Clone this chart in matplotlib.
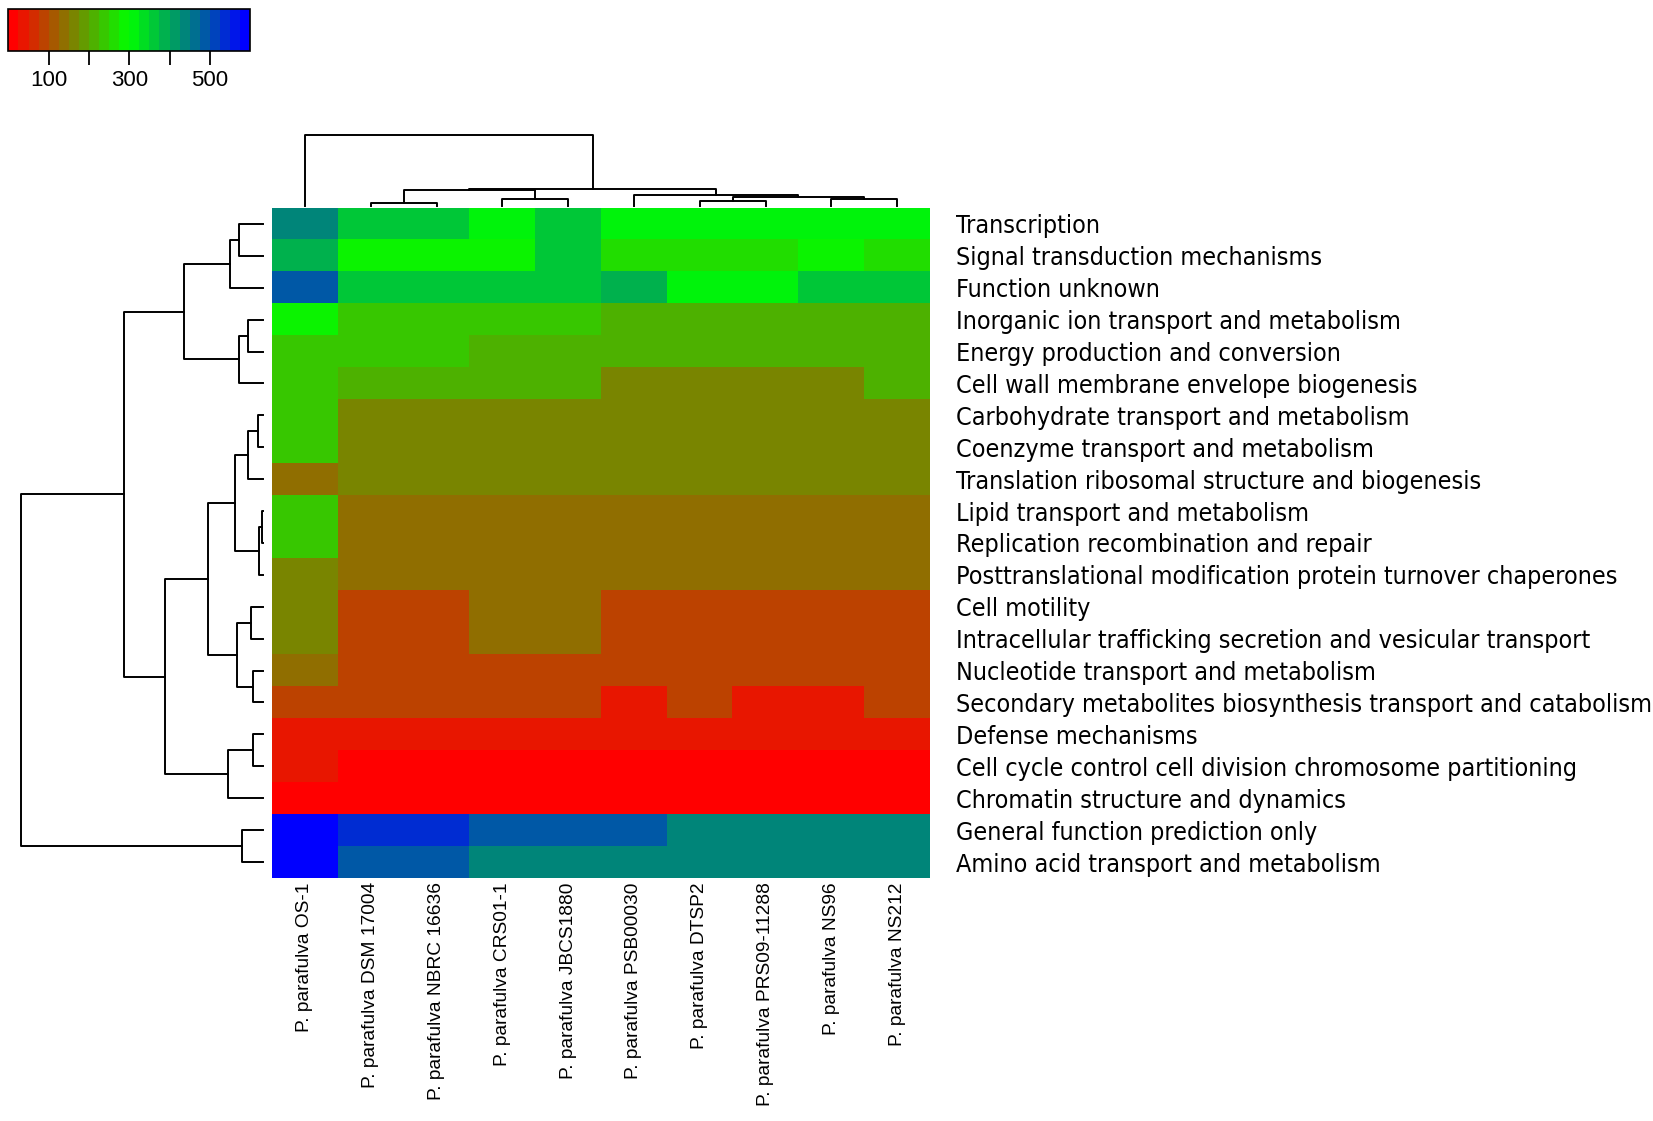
import numpy as np
import matplotlib
matplotlib.use('Agg')
import matplotlib.pyplot as plt
from matplotlib.colors import LinearSegmentedColormap, Normalize
from matplotlib.cm import ScalarMappable

# COG categories (rows, top to bottom as drawn)
categories = [
    "Transcription",
    "Signal transduction mechanisms",
    "Function unknown",
    "Inorganic ion transport and metabolism",
    "Energy production and conversion",
    "Cell wall membrane envelope biogenesis",
    "Carbohydrate transport and metabolism",
    "Coenzyme transport and metabolism",
    "Translation ribosomal structure and biogenesis",
    "Lipid transport and metabolism",
    "Replication recombination and repair",
    "Posttranslational modification protein turnover chaperones",
    "Cell motility",
    "Intracellular trafficking secretion and vesicular transport",
    "Nucleotide transport and metabolism",
    "Secondary metabolites biosynthesis transport and catabolism",
    "Defense mechanisms",
    "Cell cycle control cell division chromosome partitioning",
    "Chromatin structure and dynamics",
    "General function prediction only",
    "Amino acid transport and metabolism",
]

# strains (columns, left to right)
strains = [
    "P. parafulva OS-1",
    "P. parafulva DSM 17004",
    "P. parafulva NBRC 16636",
    "P. parafulva CRS01-1",
    "P. parafulva JBCS1880",
    "P. parafulva PSB00030",
    "P. parafulva DTSP2",
    "P. parafulva PRS09-11288",
    "P. parafulva NS96",
    "P. parafulva NS212",
]

# gene counts per category, one list per strain
os1      = [435, 390, 478, 298, 230, 245, 245, 243, 140, 228, 229, 165, 166, 164, 128, 78, 40, 40, 2, 598, 590]
dsm17004 = [350, 295, 355, 228, 230, 210, 165, 164, 162, 128, 129, 130, 82, 81, 78, 78, 41, 5, 2, 525, 475]
nbrc1663 = [350, 295, 355, 228, 230, 210, 165, 164, 162, 128, 129, 130, 82, 81, 78, 78, 41, 5, 2, 525, 475]
crs011   = [305, 295, 355, 228, 210, 210, 165, 164, 162, 128, 129, 130, 128, 127, 75, 78, 40, 5, 2, 475, 430]
jbcs1880 = [350, 350, 355, 228, 210, 210, 165, 164, 162, 128, 129, 130, 128, 127, 75, 78, 40, 5, 2, 475, 430]
psb00030 = [302, 255, 390, 212, 210, 168, 165, 164, 162, 128, 129, 130, 82, 81, 78, 40, 40, 4, 2, 475, 430]
dtsp2    = [302, 255, 300, 212, 210, 168, 165, 164, 162, 128, 129, 130, 82, 81, 78, 78, 40, 4, 2, 430, 430]
prs09    = [302, 255, 300, 212, 210, 168, 165, 164, 162, 128, 129, 130, 82, 81, 78, 40, 40, 4, 2, 430, 430]
ns96     = [302, 295, 355, 212, 210, 168, 165, 164, 162, 128, 129, 130, 82, 81, 78, 40, 40, 4, 2, 430, 430]
ns212    = [302, 255, 355, 212, 210, 210, 165, 164, 162, 128, 129, 130, 82, 81, 78, 78, 40, 4, 2, 430, 430]

# dendrogram merges (child a, child b, height); ids >= n are earlier merges
row_merges = [
    (0, 1, 72), (21, 2, 100), (3, 4, 45), (23, 5, 73), (22, 24, 238),
    (6, 7, 15), (26, 8, 47), (9, 10, 5), (28, 11, 14), (27, 29, 85),
    (12, 13, 38), (14, 15, 30), (31, 32, 80), (30, 33, 167),
    (16, 17, 30), (35, 18, 105), (34, 36, 295), (25, 37, 418),
    (19, 20, 65), (38, 39, 727),
]
col_merges = [
    (1, 2, 8), (3, 4, 22), (10, 11, 47), (6, 7, 15), (8, 9, 22),
    (13, 14, 26), (5, 15, 32), (12, 16, 52), (0, 17, 212),
]

data = np.array([os1, dsm17004, nbrc1663, crs011, jbcs1880,
                 psb00030, dtsp2, prs09, ns96, ns212]).T

cmap = LinearSegmentedColormap.from_list('rgb', ['#FF0000', '#00FF00', '#0000FF'], N=24)
norm = Normalize(vmin=0, vmax=600)


def draw_dendro(ax, merges, n, side):
    pos = {i: float(i) for i in range(n)}
    hgt = {i: 0.0 for i in range(n)}
    for k, (a, b, h) in enumerate(merges):
        xs = [pos[a], pos[a], pos[b], pos[b]]
        ys = [hgt[a], h, h, hgt[b]]
        if side == 'top':
            ax.plot(xs, ys, color='black', lw=1.4, clip_on=False)
        else:
            ax.plot(ys, xs, color='black', lw=1.4, clip_on=False)
        pos[n + k] = (pos[a] + pos[b]) / 2
        hgt[n + k] = h


fig = plt.figure(figsize=(16.53, 11.21), dpi=100)

# heatmap
ax = fig.add_axes([0.1646, 0.2168, 0.398, 0.5977])
ax.imshow(data, cmap=cmap, norm=norm, aspect='auto', interpolation='nearest')
ax.set_xticks(np.arange(len(strains)))
ax.set_xticklabels(strains, rotation=90, fontsize=13.8, family='Liberation Sans')
ax.set_yticks(np.arange(len(categories)))
ax.set_yticklabels(categories, fontsize=18, family='DejaVu Sans', fontstretch='condensed')
ax.yaxis.tick_right()
ax.tick_params(axis='y', length=0, pad=19)
ax.tick_params(axis='x', length=0, pad=3)
for s in ax.spines.values():
    s.set_visible(False)

# row dendrogram
axr = fig.add_axes([0.0127, 0.2168, 0.1467, 0.5977])
draw_dendro(axr, row_merges, len(categories), 'left')
axr.set_xlim(row_merges[-1][2], 0)
axr.set_ylim(len(categories) - 0.5, -0.5)
axr.axis('off')

# column dendrogram
axc = fig.add_axes([0.1646, 0.8162, 0.398, 0.0634])
draw_dendro(axc, col_merges, len(strains), 'top')
axc.set_xlim(-0.5, len(strains) - 0.5)
axc.set_ylim(0, col_merges[-1][2])
axc.axis('off')

# color key
axk = fig.add_axes([0.0051, 0.9547, 0.1462, 0.0377])
cb = fig.colorbar(ScalarMappable(norm=norm, cmap=cmap), cax=axk, orientation='horizontal')
cb.set_ticks([100, 200, 300, 400, 500])
cb.set_ticklabels(['100', '', '300', '', '500'])
cb.ax.tick_params(labelsize=16, length=10, width=1.3)
for t in cb.ax.get_xticklabels():
    t.set_family('Liberation Sans')
cb.outline.set_linewidth(1.2)

plt.savefig('out.png', dpi=100)
